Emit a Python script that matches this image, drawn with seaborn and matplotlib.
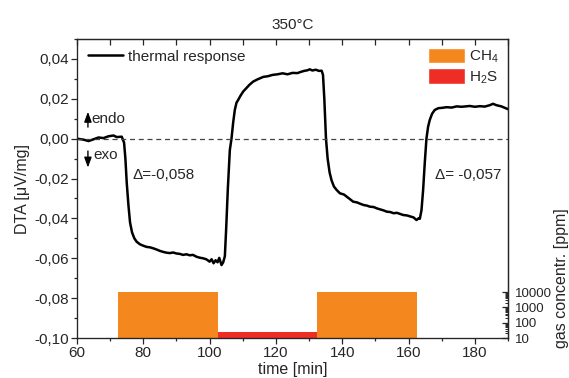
import numpy as np
import matplotlib
matplotlib.use("Agg")
import matplotlib.pyplot as plt
from matplotlib.ticker import FixedLocator, FuncFormatter, NullFormatter, MultipleLocator
from matplotlib.patches import Patch
import seaborn as sns

# ── Data ─────────────────────────────────────────────────
time_min = [60, 62, 63.5, 65, 66.5, 68, 69.5, 71, 72, 73.5, 74.2, 74.6, 75.0, 75.5, 76.0, 76.6,
            77.3, 78, 79, 80, 81, 82, 83, 84, 85, 86, 87, 88, 89, 90, 91, 92, 93, 94, 95, 96,
            97, 98, 99, 100, 100.6, 101.2, 101.8, 102.4, 102.9, 103.6, 104.1, 104.6, 105.0,
            105.5, 106.1, 106.6, 107.1, 107.6, 108.1, 108.6, 109.3, 110.1, 111, 112, 113.1,
            114.5, 116.2, 117.5, 119, 120.5, 122, 123.5, 125, 126.5, 127.5, 128.5, 129.5,
            130.2, 131, 132, 133, 133.8, 134.2, 134.6, 135.1, 135.6, 136.2, 136.8, 137.5,
            138.3, 139.3, 140.5, 141.3, 142.3, 143.3, 144.5, 145.5, 146.5, 147.5, 148.3,
            149.5, 150.5, 151.5, 152.5, 153.4, 154.5, 155.5, 156.5, 157.5, 158.4, 159.5,
            160.5, 161.5, 162.4, 163.0, 163.4, 163.9, 164.4, 164.9, 165.4, 165.9, 166.4,
            167.1, 167.9, 169, 170.3, 171.5, 173, 174.5, 176, 178.5, 180, 181.5, 183, 184.5,
            185.5, 186.5, 188, 189, 190]
dta = [0.0, -0.0005, -0.0012, -0.0003, 0.0006, 0.0003, 0.0012, 0.0016, 0.0008, 0.0010,
       -0.002, -0.010, -0.022, -0.033, -0.042, -0.047, -0.050, -0.0517, -0.053, -0.0537,
       -0.0543, -0.0545, -0.055, -0.0556, -0.0563, -0.0568, -0.0572, -0.0574, -0.0571,
       -0.0576, -0.0578, -0.0583, -0.058, -0.0585, -0.0583, -0.0592, -0.0597, -0.060,
       -0.0605, -0.0617, -0.0605, -0.0625, -0.061, -0.0620, -0.0598, -0.0634, -0.062,
       -0.059, -0.045, -0.025, -0.0057, 0.0, 0.008, 0.0144, 0.018, 0.0194, 0.0215, 0.0236,
       0.0252, 0.027, 0.0286, 0.0298, 0.031, 0.0313, 0.032, 0.0323, 0.0328, 0.0323, 0.033,
       0.0329, 0.0335, 0.0340, 0.0343, 0.0348, 0.0342, 0.0346, 0.0340, 0.0341, 0.032, 0.020,
       0.0, -0.010, -0.017, -0.021, -0.024, -0.0257, -0.0274, -0.028, -0.029, -0.0303,
       -0.0316, -0.032, -0.0327, -0.0333, -0.0336, -0.0341, -0.0343, -0.035, -0.0355,
       -0.036, -0.0366, -0.0368, -0.0374, -0.0372, -0.0378, -0.0383, -0.0385, -0.039,
       -0.0395, -0.0408, -0.040, -0.0402, -0.036, -0.0257, -0.012, 0.0, 0.006, 0.0094,
       0.0125, 0.0144, 0.0153, 0.0155, 0.0158, 0.0156, 0.0162, 0.016, 0.0164, 0.0160,
       0.0163, 0.0161, 0.0168, 0.0175, 0.0168, 0.0162, 0.0155, 0.0148]

# gas pulses: start, end [min], concentration [ppm]
gas_names = ["CH4", "H2S", "CH4"]
gas_start = [72.5, 102.5, 132.5]
gas_end = [102.5, 132.5, 162.5]
gas_conc = [10000, 25, 10000]
gas_colors = {"CH4": "#F5871F", "H2S": "#EE2D24"}

delta_labels = ["\u0394=-0,058", "\u0394= -0,057"]

# ── Style ────────────────────────────────────────────────
sns.set_style("ticks")
plt.rcParams["font.family"] = ["Liberation Sans", "DejaVu Sans"]
plt.rcParams["mathtext.default"] = "regular"
FS = 11

fig = plt.figure(figsize=(5.69, 3.78), dpi=100)
ax = fig.add_axes([0.1353, 0.1058, 0.8928 - 0.1353, 0.8968 - 0.1058])

sns.lineplot(x=time_min, y=dta, ax=ax, color="black", linewidth=1.8,
             label="thermal response", legend=False)
ax.axhline(0, color="#444444", linestyle=(0, (4, 3)), linewidth=0.9)

ax.set_xlim(60, 190)
ax.set_ylim(-0.10, 0.05)
ax.xaxis.set_major_locator(MultipleLocator(20))
ax.xaxis.set_minor_locator(MultipleLocator(10))
ax.yaxis.set_major_locator(FixedLocator(np.arange(-0.10, 0.041, 0.02)))
ax.yaxis.set_minor_locator(MultipleLocator(0.01))
comma = FuncFormatter(lambda v, p: f"{v:.2f}".replace(".", ",").replace("-0,00", "0,00"))
ax.yaxis.set_major_formatter(comma)
ax.tick_params(axis="both", which="major", direction="out", length=4, width=0.9,
               labelsize=FS, pad=2)
ax.tick_params(axis="both", which="minor", direction="out", length=2.5, width=0.9)
for sp in ax.spines.values():
    sp.set_linewidth(0.9)
    sp.set_visible(True)

# top mirror ticks pointing inward
secx = ax.secondary_xaxis("top")
secx.xaxis.set_major_locator(MultipleLocator(10))
secx.xaxis.set_major_formatter(NullFormatter())
secx.tick_params(direction="in", length=4, width=0.9)

ax.set_xlabel("time [min]", fontsize=FS + 0.5, labelpad=1)
ax.set_ylabel("DTA [\u03bcV/mg]", fontsize=FS + 0.5, labelpad=3)
ax.set_title("350\u00b0C", fontsize=FS, pad=7)

# ── Gas concentration on log axis ────────────────────────
ax2 = ax.twinx()
ax2.set_yscale("log")
ax2.set_ylim(10, 10 ** 20.6)
for name, s, e, c in zip(gas_names, gas_start, gas_end, gas_conc):
    ax2.bar(s, c - 10, width=e - s, bottom=10, align="edge",
            color=gas_colors[name], linewidth=0, zorder=1)
ax2.yaxis.set_major_locator(FixedLocator([10, 100, 1000, 10000]))
minors = [m * 10 ** k for k in range(1, 4) for m in range(2, 10)]
ax2.yaxis.set_minor_locator(FixedLocator(minors))
ax2.yaxis.set_major_formatter(FuncFormatter(lambda v, p: f"{int(v)}"))
ax2.yaxis.set_minor_formatter(NullFormatter())
ax2.tick_params(axis="y", which="major", direction="in", length=4, width=0.9,
                labelsize=9.5, pad=5)
ax2.tick_params(axis="y", which="minor", direction="in", length=2, width=0.7)
ax2.spines["right"].set_linewidth(0.9)
fig.text(0.987, 0.265, "gas concentr. [ppm]", rotation=90, fontsize=11.5,
         ha="center", va="center")

# line on top of the bars
ax.set_zorder(ax2.get_zorder() + 1)
ax.patch.set_visible(False)

# ── Annotations ──────────────────────────────────────────
arrow = dict(arrowstyle="-|>,head_length=0.6,head_width=0.22", color="black",
             lw=1.0, shrinkA=0, shrinkB=0)
ax.annotate("", xy=(63.3, 0.0135), xytext=(63.3, 0.0058), arrowprops=arrow)
ax.text(64.2, 0.0098, "endo", fontsize=FS, va="center")
ax.annotate("", xy=(63.3, -0.0145), xytext=(63.3, -0.0062), arrowprops=arrow)
ax.text(65.0, -0.0083, "exo", fontsize=FS, va="center")
ax.text(76.8, -0.0183, delta_labels[0], fontsize=FS, va="center")
ax.text(167.9, -0.0183, delta_labels[1], fontsize=FS, va="center")

# ── Legends ──────────────────────────────────────────────
ax.legend(loc="upper left", frameon=False, handlelength=2.3, fontsize=FS,
          borderaxespad=0.3, handletextpad=0.35, bbox_to_anchor=(0.0, 1.0))
handles = [Patch(facecolor=gas_colors["CH4"], label="CH$_4$"),
           Patch(facecolor=gas_colors["H2S"], label="H$_2$S")]
ax2.legend(handles=handles, loc="upper right", frameon=False, handlelength=2.4,
           handleheight=1.15, labelspacing=0.2, fontsize=FS, borderaxespad=0.2,
           handletextpad=0.3)

fig.savefig("out.png", dpi=100)
plt.close("all")
